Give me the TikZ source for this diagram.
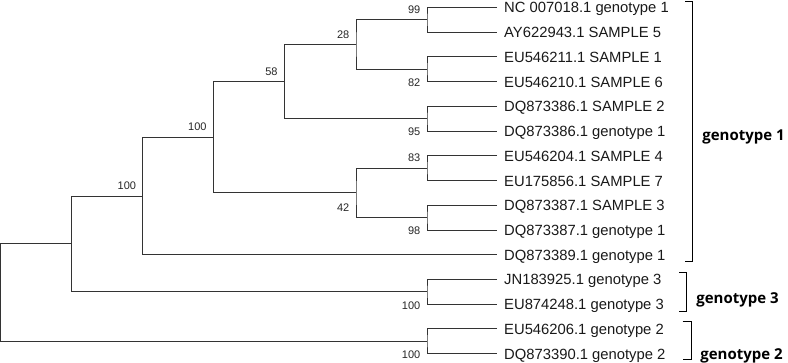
\documentclass[tikz,border=0pt]{standalone}
\usepackage{fontspec}
\setmainfont{Liberation Sans}
\newfontfamily\labfont{Open Sans}
\begin{document}
\begin{tikzpicture}[x=1pt,y=-1pt,
  branch/.style={draw=black!80, line width=0.95pt},
  leaflab/.style={anchor=base west, inner sep=0pt, font=\fontsize{14.8}{16}\selectfont, text=black!90},
  boot/.style={anchor=base east, inner sep=0pt, font=\fontsize{11}{12}\selectfont, text=black!85},
  bracket/.style={draw=black, line width=1pt},
  grouplab/.style={anchor=base west, inner sep=0pt, font=\labfont\bfseries\fontsize{15}{16}\selectfont}]
\useasboundingbox (0,0) rectangle (788,363);
% leaves
\foreach \i/\t in {0/{NC 007018.1 genotype 1}, 1/{AY622943.1 SAMPLE 5}, 2/{EU546211.1 SAMPLE 1},
  3/{EU546210.1 SAMPLE 6}, 4/{DQ873386.1 SAMPLE 2}, 5/{DQ873386.1 genotype 1},
  6/{EU546204.1 SAMPLE 4}, 7/{EU175856.1 SAMPLE 7}, 8/{DQ873387.1 SAMPLE 3},
  9/{DQ873387.1 genotype 1}, 10/{DQ873389.1 genotype 1}, 11/{JN183925.1 genotype 3},
  12/{EU874248.1 genotype 3}, 13/{EU546206.1 genotype 2}, 14/{DQ873390.1 genotype 2}} {
  \coordinate (l\i) at (497, 7.5+24.72*\i);
  \node[leaflab] (t\i) at (504, 13+24.72*\i) {\t};
}
% internal nodes
\coordinate (n99) at (427,19.86);
\coordinate (n82) at (427,69.30);
\coordinate (n28) at (356,44.58);
\coordinate (n95) at (427,118.74);
\coordinate (n58) at (284.3,81.66);
\coordinate (n83) at (427,168.18);
\coordinate (n98) at (427,217.62);
\coordinate (n42) at (356,192.90);
\coordinate (nA) at (213.3,137.28);
\coordinate (nB) at (142.7,195.99);
\coordinate (nG3) at (427,291.78);
\coordinate (nC) at (71.7,243.885);
\coordinate (nG2) at (427,341.22);
\coordinate (root) at (0.5,292.55);
% branches
\foreach \a/\p/\b in {l0/n99/l1, l2/n82/l3, n99/n28/n82, l4/n95/l5, n28/n58/n95,
  l6/n83/l7, l8/n98/l9, n83/n42/n98, n58/nA/n42, nA/nB/l10, l11/nG3/l12,
  nB/nC/nG3, l13/nG2/l14, nC/root/nG2}
  \draw[branch] (\a) -| (\p) |- (\b);
% bootstrap values
\node[boot] (b99) at ([shift={(-6.5,-6.3)}]n99) {99};
\node[boot] (b82) at ([shift={(-6.5,17.2)}]n82) {82};
\node[boot] (b28) at ([shift={(-6.5,-6.3)}]n28) {28};
\node[boot] (b95) at ([shift={(-6.5,17.2)}]n95) {95};
\node[boot] (b58) at ([shift={(-6.5,-6.3)}]n58) {58};
\node[boot] (b83) at ([shift={(-6.5,-6.3)}]n83) {83};
\node[boot] (b98) at ([shift={(-6.5,17.2)}]n98) {98};
\node[boot] (b42) at ([shift={(-6.5,18.5)}]n42) {42};
\node[boot] (bA) at ([shift={(-6.5,-6.3)}]nA) {100};
\node[boot] (bB) at ([shift={(-6.5,-6.3)}]nB) {100};
\node[boot] (bG3) at ([shift={(-6.5,17.5)}]nG3) {100};
\node[boot] (bG2) at ([shift={(-6.5,17.2)}]nG2) {100};
% brackets
\draw[bracket] (685,2) -- (692.3,2) -- (692.3,262) -- (685,262);
\draw[bracket] (679,272.7) -- (686.7,272.7) -- (686.7,311.3) -- (679,311.3);
\draw[bracket] (682.7,322) -- (691.2,322) -- (691.2,360) -- (682.7,360);
% group labels
\node[grouplab] (g1) at (702.2,141) {genotype 1};
\node[grouplab] (g3) at (696.2,304) {genotype 3};
\node[grouplab] (g2) at (700.2,359.3) {genotype 2};
\end{tikzpicture}
\end{document}
